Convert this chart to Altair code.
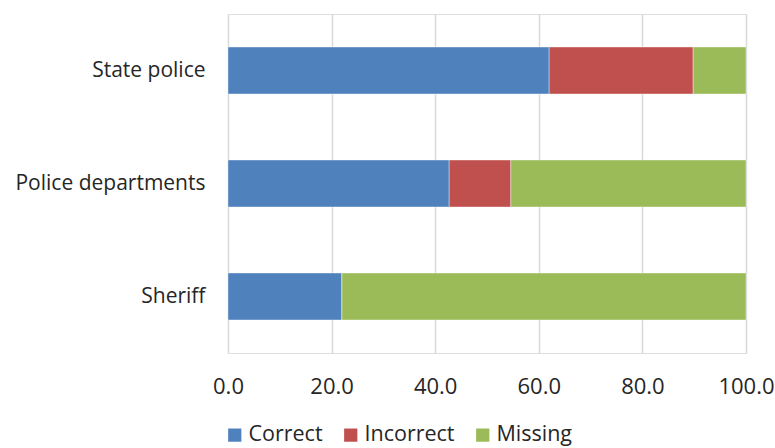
import altair as alt
import pandas as pd

# Agencies (top to bottom) and the share of each outcome, in percent
agencies = ["State police", "Police departments", "Sheriff"]
outcomes = ["Correct", "Incorrect", "Missing"]
correct = [62.0, 42.7, 22.0]
incorrect = [27.8, 11.9, 0.0]
missing = [10.2, 45.4, 78.0]
x_ticks = [0, 20, 40, 60, 80, 100]

colors = ["#4F81BD", "#C0504D", "#9BBB59"]

rows = []
for i, agency in enumerate(agencies):
    for j, (outcome, vals) in enumerate(zip(outcomes, [correct, incorrect, missing])):
        rows.append({"agency": agency, "outcome": outcome, "order": j, "value": vals[i]})
df = pd.DataFrame(rows)

font = "Open Sans"
text_color = "#262626"

chart = (
    alt.Chart(df)
    .mark_bar(stroke="#ffffff", strokeWidth=0.6, strokeOpacity=0.6)
    .encode(
        y=alt.Y(
            "agency:N",
            sort=agencies,
            title=None,
            scale=alt.Scale(paddingInner=0.585, paddingOuter=0.2925),
            axis=alt.Axis(
                domain=False,
                ticks=False,
                labelPadding=23,
                labelFontSize=21,
                labelFont=font,
                labelColor=text_color,
                labelLimit=300,
            ),
        ),
        x=alt.X(
            "value:Q",
            stack="zero",
            title=None,
            scale=alt.Scale(domain=[0, 100], nice=False),
            axis=alt.Axis(
                values=x_ticks,
                format=".1f",
                domain=False,
                ticks=False,
                grid=True,
                gridColor="#d9d9d9",
                gridWidth=1.5,
                labelPadding=23,
                labelFontSize=22,
                labelFont=font,
                labelColor=text_color,
                labelFlush=False,
            ),
        ),
        color=alt.Color(
            "outcome:N",
            sort=outcomes,
            scale=alt.Scale(domain=outcomes, range=colors),
            legend=alt.Legend(
                title=None,
                orient="none",
                direction="horizontal",
                legendX=-4,
                legendY=410,
                symbolType="square",
                symbolSize=175,
                symbolStrokeWidth=0,
                symbolOpacity=1,
                labelFontSize=21.5,
                labelFont=font,
                labelColor=text_color,
                labelOffset=3,
                columnPadding=17,
            ),
        ),
        order=alt.Order("order:Q"),
    )
    .properties(
        width=518,
        height=339,
        padding={"left": 228, "top": 14, "right": 29, "bottom": 95},
        autosize=alt.AutoSizeParams(type="none"),
    )
    .configure_view(stroke=None)
    .configure(background="#ffffff")
)

chart.save("out.html", embed_options={"renderer": "svg", "actions": False})
